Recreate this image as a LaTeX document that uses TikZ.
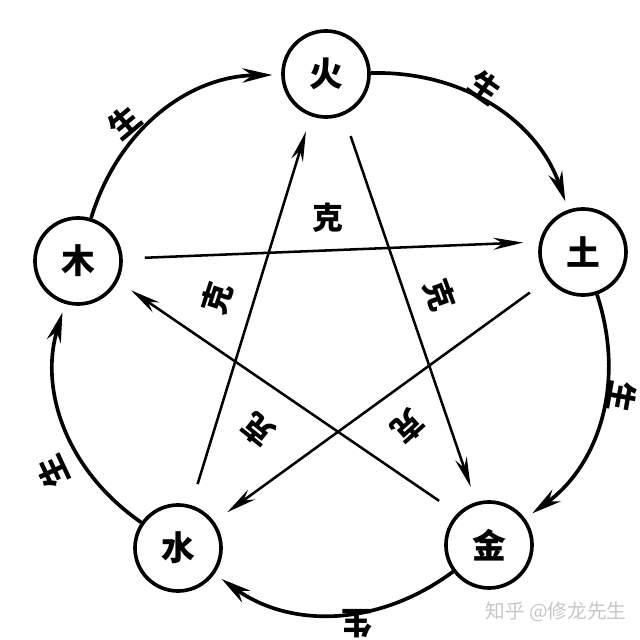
\documentclass[tikz,border=0pt]{standalone}
\usepackage{fontspec}
\newfontfamily\cjk{Noto Sans CJK SC}
\usetikzlibrary{arrows.meta, positioning}

\begin{document}
\begin{tikzpicture}[
  x=0.025cm, y=0.025cm,
  phase/.style={circle, draw=black, line width=2.6pt, fill=white, minimum size=2.15cm, inner sep=0pt, font=\cjk\bfseries\fontsize{24}{24}\selectfont},
  sheng/.style={line width=2.6pt, shorten >=0.22cm, -{Stealth[length=0.75cm, width=0.36cm]}},
  ke/.style={line width=1.8pt, shorten <=0.55cm, shorten >=0.4cm, -{Stealth[length=0.75cm, width=0.3cm]}},
  lbl/.style={inner sep=0pt, font=\cjk\bfseries\fontsize{22}{22}\selectfont}
]
  \useasboundingbox (0,0) rectangle (640,640);

  % the five phases
  \node[phase] (huo)  at (326,566) {火};
  \node[phase] (tu)   at (583,388) {土};
  \node[phase] (jin)  at (489,95)  {金};
  \node[phase] (shui) at (178,92)  {水};
  \node[phase] (mu)   at (78,379)  {木};

  % outer cycle
  \draw[sheng] (mu)   to[bend left=36] (huo);
  \draw[sheng] (huo)  to[bend left=36] (tu);
  \draw[sheng] (tu)   to[bend left=36] (jin);
  \draw[sheng] (jin)  to[bend left=36] (shui);
  \draw[sheng] (shui) to[bend left=36] (mu);

  % inner star
  \draw[ke] (mu.3)    -- (tu.167);
  \draw[ke] (tu.218)  -- (shui.36);
  \draw[ke] (shui.73) -- (huo.250);
  \draw[ke] (huo.293) -- (jin.107);
  \draw[ke] (jin.135) -- (mu.333);

  % labels
  \node[lbl, rotate=40]   (s1) at (125,518) {生};
  \node[lbl, rotate=-35]  (s2) at (485,553) {生};
  \node[lbl, rotate=-100] (s3) at (622,243) {生};
  \node[lbl, rotate=180]  (s4) at (357,16)  {生};
  \node[lbl, rotate=115]  (s5) at (53,168)  {生};

  \node[lbl]              (k1) at (328,422) {克};
  \node[lbl, rotate=72]   (k2) at (217,342) {克};
  \node[lbl, rotate=-70]  (k3) at (440,345) {克};
  \node[lbl, rotate=141]  (k4) at (258,210) {克};
  \node[lbl, rotate=-138] (k5) at (408,213) {克};

  \node[inner sep=0pt, text=black!22, font=\cjk\fontsize{14}{14}\selectfont] (mark) at (556,28) {知乎 @修龙先生};
\end{tikzpicture}
\end{document}
